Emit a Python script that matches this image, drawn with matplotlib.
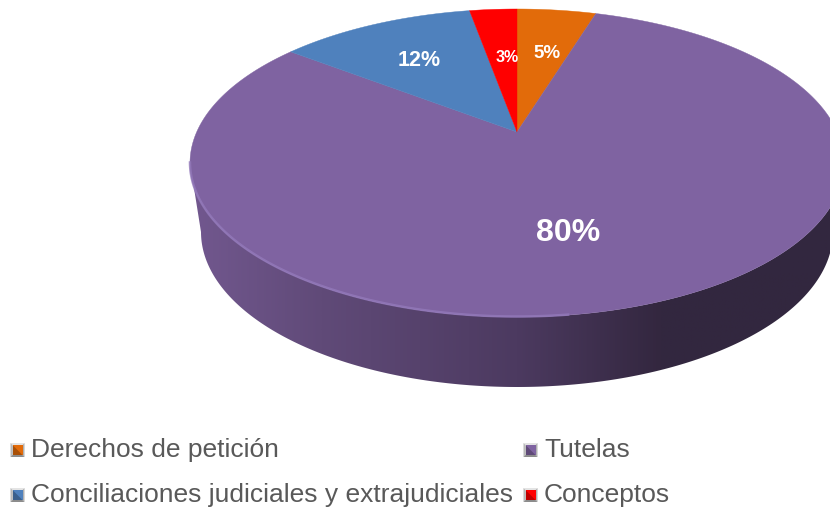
import numpy as np
import matplotlib
matplotlib.use("Agg")
import matplotlib.pyplot as plt
from matplotlib.colors import LinearSegmentedColormap
from matplotlib.patches import Polygon

plt.rcParams['font.family'] = ['Liberation Sans', 'DejaVu Sans']

# DATA
categories = ['Derechos de petición', 'Tutelas', 'Conciliaciones judiciales y extrajudiciales', 'Conceptos']
values = [5, 80, 12, 3]
labels = ['5%', '80%', '12%', '3%']
colors = ['#E26B0A', '#7F63A1', '#4F81BD', '#FF0000']

# layout, in pixels of the 830x508 picture
cx, cy, rx, ry = 517, 163, 327, 154
bx, by, brx, bry = 517, 232, 316, 155
apex = (517, 132)
squash = 2.05
label_pos = [(547, 53), (568, 233), (419, 61), (507, 58)]
label_size = [13.5, 23, 15.5, 11.5]
legend_pos = [(31, 450), (544, 450), (31, 495), (544, 495)]


def rim_point(theta):
    # ray from the apex, hit on the top ellipse
    dx = squash * np.sin(theta)
    dy = -np.cos(theta)
    ox, oy = apex[0] - cx, apex[1] - cy
    a = (dx / rx) ** 2 + (dy / ry) ** 2
    b = 2 * (ox * dx / rx ** 2 + oy * dy / ry ** 2)
    c = (ox / rx) ** 2 + (oy / ry) ** 2 - 1
    t = (-b + np.sqrt(b * b - 4 * a * c)) / (2 * a)
    return apex[0] + t * dx, apex[1] + t * dy


def slice_poly(a0, a1):
    n = max(int((a1 - a0) * 80), 3)
    pts = [rim_point(t) for t in np.linspace(a0, a1, n)]
    return [apex] + pts


fig = plt.figure(figsize=(8.3, 5.08), dpi=100)
ax = fig.add_axes([0, 0, 1, 1])
ax.set_xlim(0, 830)
ax.set_ylim(508, 0)
ax.axis('off')

# side wall
t = np.linspace(0, np.pi, 200)
upper = np.c_[cx + rx * np.cos(t), cy + ry * np.sin(t)]
lower = np.c_[bx + brx * np.cos(t), by + bry * np.sin(t)]
wall_pts = np.vstack([upper, lower[::-1]])
wall = Polygon(wall_pts, closed=True, fc='none', ec='none')
ax.add_patch(wall)
wall_cmap = LinearSegmentedColormap.from_list('wall', [
    (0.0, '#72588F'), (0.2, '#604A78'), (0.5, '#4C3A60'),
    (0.72, '#33273F'), (1.0, '#32273F')])
grad = np.linspace(0, 1, 512).reshape(1, -1)
im = ax.imshow(grad, cmap=wall_cmap, extent=(190, 844, 400, 150), aspect='auto', zorder=1)
im.set_clip_path(wall)
ax.set_xlim(0, 830)
ax.set_ylim(508, 0)

# top face
total = sum(values)
start = 0.0
for val, col in zip(values, colors):
    end = start + 2 * np.pi * val / total
    ax.add_patch(Polygon(slice_poly(start, end), closed=True, fc=col, ec=col, lw=0.3, zorder=2))
    start = end

# light bevel on the front edge
t = np.linspace(np.pi, 0.45 * np.pi, 120)
ax.plot(cx + rx * np.cos(t), cy + ry * np.sin(t) - 0.5, color='#9379BA', lw=1.8, alpha=0.8, zorder=3)

for lab, pos, size in zip(labels, label_pos, label_size):
    ax.text(pos[0], pos[1], lab, color='white', fontweight='bold', fontsize=size,
            ha='center', va='center', zorder=4)


def legend_mark(x, y, col):
    s = 7
    i = 5
    faces = [
        ([(x - s, y - s), (x + s, y - s), (x + i, y - i), (x - i, y - i)], '#E4E4E4'),
        ([(x - s, y - s), (x - i, y - i), (x - i, y + i), (x - s, y + s)], '#B8B8B8'),
        ([(x + s, y - s), (x + s, y + s), (x + i, y + i), (x + i, y - i)], '#B0B0B0'),
        ([(x - s, y + s), (x + s, y + s), (x + i, y + i), (x - i, y + i)], '#8C8C8C'),
        ([(x - i, y - i), (x + i, y - i), (x + i, y + i), (x - i, y + i)], col),
    ]
    for pts, fc in faces:
        ax.add_patch(Polygon(pts, closed=True, fc=fc, ec='none', zorder=5))
    # darker lower corner of the square
    ax.add_patch(Polygon([(x - i, y - i), (x + i, y + i), (x - i, y + i)], closed=True,
                         fc='black', alpha=0.25, ec='none', zorder=6))


for cat, col, pos in zip(categories, colors, legend_pos):
    legend_mark(pos[0] - 13.5, pos[1], col)
    ax.text(pos[0], pos[1], cat, color='#595959', fontsize=19, ha='left', va='center')

fig.savefig('out.png', dpi=100)
